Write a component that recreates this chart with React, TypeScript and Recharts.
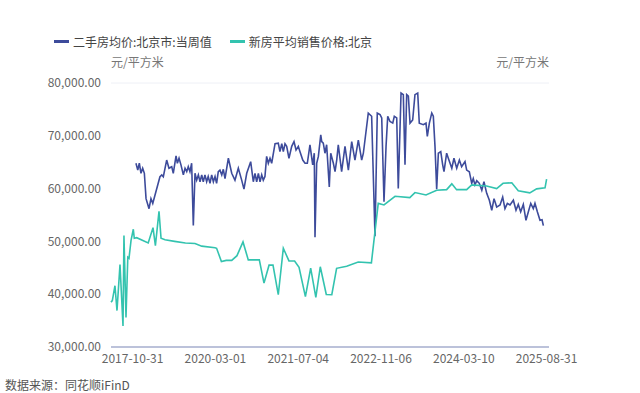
import { LineChart, Line, XAxis, YAxis, CartesianGrid } from 'recharts'

// x = position on the category axis (week index), y = 元/平方米
const blueX = [
  20.8, 22.3, 23.6, 25, 26.4, 27.8, 29.2, 31.7, 33.3, 34.8, 40.8, 42.3, 43.6, 46.4, 48.3, 50.6, 51.9, 54.2, 55.3, 56.7,
  58.3, 60.3, 61.7, 63.1, 64.4, 65.8, 67.2, 68.6, 70, 71.4, 72.8, 74.2, 75.6, 76.9, 78.3, 79.7, 81, 82.5, 83.9, 85.3,
  86.7, 88, 89.4, 90.8, 92.3, 93.6, 95, 97.8, 100.6, 103.3, 106.1, 108.9, 110.8, 113.1, 116.4, 118.6, 120, 121.4, 122.8, 124.2,
  125.6, 126.9, 128.3, 129.7, 131.1, 132.5, 133.9, 136.7, 139.4, 140.8, 142.3, 143.6, 145, 146.4, 148.3, 150.6, 152.5, 154.2, 156.1, 157.5,
  159.8, 161.7, 163.6, 165.8, 168.1, 169.4, 170, 171.4, 172.8, 174.8, 175.6, 176.9, 178.3, 179.7, 181.9, 183.1, 185.3, 186.7, 188.1, 189.4,
  192.2, 195, 197.8, 200.6, 203.3, 206.1, 208.9, 210.3, 214.4, 217.2, 220, 221.9, 224.2, 225.6, 227.5, 229.2, 230.6, 232.5, 234.8, 236.1,
  238.1, 239.4, 241.7, 243.6, 245, 246.4, 247.8, 249.2, 251.4, 253.3, 255.6, 256.9, 260.3, 262.5, 263.6, 265.3, 267.3, 268.6, 270, 271.4,
  272.8, 274.8, 276.4, 277.5, 279.7, 281.1, 284, 285.8, 288.1, 290.3, 292.2, 295, 296.4, 298.6, 300.6, 301.9, 303.3, 304.8, 306.9, 309,
  310.8, 313.1, 315.3, 317.3, 319.2, 321.4, 324.2, 326.4, 328.3, 330.3, 332.5, 335.3, 337.5, 339.4, 341.4, 343.6, 345.8, 347.8, 349.8, 351.9,
  353.3, 355.3, 357.5, 359.2, 360.3,
]
const blueY = [
  64800, 63500, 64800, 62900, 63850, 62900, 58100, 56200, 58100, 57200, 62250, 62600, 62250, 65400, 63850, 64150, 62900, 66200, 64800, 65750,
  64500, 62600, 63850, 63200, 64150, 63200, 64800, 53000, 62900, 61600, 62600, 61300, 62600, 61300, 62600, 61300, 62300, 61000, 62600, 61300,
  62300, 61000, 63200, 63500, 62600, 63650, 61900, 65750, 62900, 61600, 63850, 61600, 59900, 62900, 65100, 61300, 62900, 61300, 62900, 61300,
  62600, 61600, 62300, 66100, 64800, 65750, 64800, 68500, 68600, 67000, 68500, 67000, 68500, 68000, 65750, 68000, 68900, 67300, 68000, 67000,
  65400, 64800, 64800, 68300, 64500, 66700, 50800, 64800, 66100, 70200, 68900, 68600, 66700, 68300, 60300, 66700, 64800, 63200, 65400, 68300,
  63200, 68000, 63500, 68900, 65400, 69200, 65400, 66700, 74300, 73700, 51000, 74300, 74000, 73400, 57500, 68000, 73700, 72700, 72400, 73700,
  73400, 60000, 78100, 77800, 64500, 77800, 77500, 72400, 73000, 77800, 78100, 72400, 72100, 72400, 69900, 72400, 74300, 73700, 68000, 59900,
  66700, 67000, 64500, 63200, 66700, 65750, 63850, 65750, 63850, 65400, 64150, 65100, 63500, 63200, 61000, 61900, 60700, 61500, 61000, 59700,
  61300, 59100, 57800, 55900, 58100, 56500, 56900, 58400, 56200, 57200, 56900, 57800, 55900, 57000, 55600, 57000, 54000, 55600, 57200, 56200,
  57200, 55600, 54000, 54100, 53000,
]

const tealX = [
  0, 1.1, 3.3, 5, 7.5, 10, 10.8, 12.5, 14, 15, 16.7, 18.6, 19.4, 21.4, 31, 35, 37, 40, 41.7, 45,
  53, 62, 70, 75.6, 86.7, 88, 92, 96, 100.6, 105, 110, 114.4, 123.6, 127.5, 131.7, 135, 139.4, 143.6, 148.3, 153,
  156.7, 162, 166.4, 170.7, 174.4, 179.4, 184, 188, 196.4, 206, 217, 222.7, 227.5, 236.7, 249, 253.3, 262.5, 271.4, 279.7, 284,
  288, 296.4, 300.6, 313, 321.4, 326.7, 334, 339.4, 349, 354.7, 361.7, 363,
]
const tealY = [
  38500, 38800, 41600, 36900, 45600, 34000, 51100, 35600, 47000, 46800, 50200, 52300, 50600, 50700, 49700, 52600, 49200, 55700, 50600, 50300,
  50000, 49700, 49600, 49100, 48800, 48700, 46200, 46400, 46400, 47300, 49900, 46500, 46500, 42100, 45500, 45500, 39900, 48700, 46300, 46300,
  45100, 39550, 44950, 39400, 45200, 39950, 39900, 44900, 45300, 46100, 45950, 57200, 56900, 58550, 58300, 59250, 58800, 59700, 59800, 60900,
  59800, 59800, 60700, 60500, 60000, 61000, 61100, 59600, 59200, 59950, 60150, 61800,
]

const tickPos = [18, 87, 156, 225, 294, 363]
const tickLabels = ['2017-10-31', '2020-03-01', '2021-07-04', '2022-11-06', '2024-03-10', '2025-08-31']
const yTicks = [30000, 40000, 50000, 60000, 70000, 80000]

const BLUE = '#3d4b9b'
const TEAL = '#33c3af'
const FONT = '"Noto Sans CJK SC", "Noto Sans", sans-serif'

const data = [
  ...blueX.map((x, i) => ({ x, blue: blueY[i] })),
  ...tealX.map((x, i) => ({ x, teal: tealY[i] })),
].sort((a, b) => a.x - b.x)

const fmt = (v: number) =>
  v.toLocaleString('en-US', { minimumFractionDigits: 2, maximumFractionDigits: 2 })

const tickStyle = { fontSize: 12, fill: '#666', fontFamily: FONT }

export default function App() {
  return (
    <div style={{ position: 'absolute', left: 0, top: 0, width: 640, height: 393, background: '#fff', fontFamily: FONT }}>
      <div style={{ position: 'absolute', top: 33, left: 54, display: 'flex', alignItems: 'center', fontSize: 12, color: '#444', whiteSpace: 'nowrap' }}>
        <span style={{ width: 15, height: 3, background: BLUE, marginRight: 4 }} />
        <span>二手房均价:北京市:当周值</span>
        <span style={{ width: 15, height: 3, background: TEAL, marginLeft: 18, marginRight: 4 }} />
        <span>新房平均销售价格:北京</span>
      </div>
      <div style={{ position: 'absolute', top: 53, left: 111, fontSize: 12, color: '#777' }}>元/平方米</div>
      <div style={{ position: 'absolute', top: 53, right: 91, fontSize: 12, color: '#777' }}>元/平方米</div>

      <LineChart width={640} height={393} data={data} margin={{ top: 83, right: 11, bottom: 16, left: 11 }}>
        <CartesianGrid horizontal vertical={false} stroke="#eef0f6" />
        <XAxis
          type="number"
          dataKey="x"
          domain={[0, 365]}
          ticks={tickPos}
          tickFormatter={(v: number) => tickLabels[tickPos.indexOf(v)] ?? ''}
          tick={tickStyle}
          tickLine={false}
          tickMargin={1}
          axisLine={{ stroke: '#a9b1cf', strokeWidth: 1.5 }}
          height={30}
          interval={0}
        />
        <YAxis
          yAxisId="left"
          domain={[30000, 80000]}
          ticks={yTicks}
          tickFormatter={fmt}
          tick={tickStyle}
          tickLine={false}
          axisLine={false}
          tickMargin={4}
          width={100}
        />
        <YAxis
          yAxisId="right"
          orientation="right"
          domain={[30000, 80000]}
          ticks={yTicks}
          tickFormatter={fmt}
          tick={{ ...tickStyle, textAnchor: 'start' }}
          tickLine={false}
          axisLine={false}
          tickMargin={4}
          width={80}
        />
        <Line
          yAxisId="left"
          type="linear"
          dataKey="blue"
          stroke={BLUE}
          strokeWidth={1.6}
          dot={false}
          connectNulls
          isAnimationActive={false}
        />
        <Line
          yAxisId="left"
          type="linear"
          dataKey="teal"
          stroke={TEAL}
          strokeWidth={1.6}
          dot={false}
          connectNulls
          isAnimationActive={false}
        />
      </LineChart>

      <div style={{ position: 'absolute', top: 376, left: 5, fontSize: 12, color: '#555' }}>数据来源：同花顺iFinD</div>
    </div>
  )
}
